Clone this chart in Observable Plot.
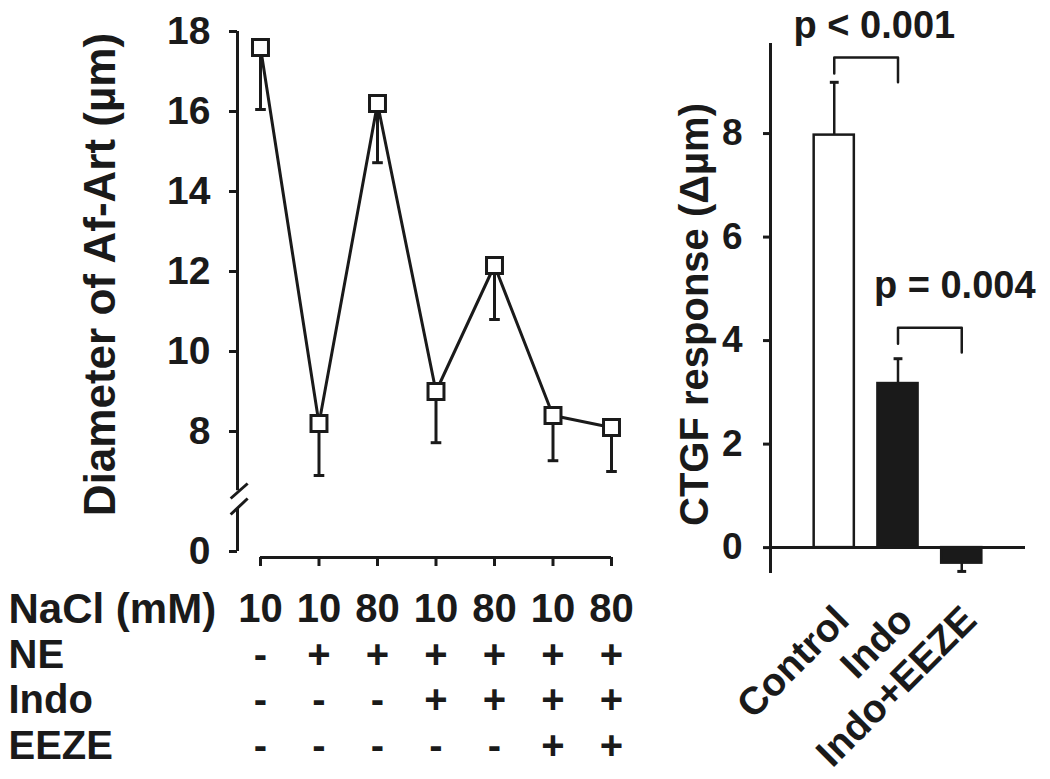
<!DOCTYPE html>
<html>
<head>
<meta charset="utf-8">
<script src="https://cdn.jsdelivr.net/npm/d3@7"></script>
<script src="https://cdn.jsdelivr.net/npm/@observablehq/plot@0.6"></script>
<style>
  html, body { margin: 0; padding: 0; background: #ffffff; }
  #wrap { position: relative; width: 1050px; height: 779px; overflow: hidden; background: #ffffff; }
  #left { position: absolute; left: 0; top: 0; }
  #right { position: absolute; left: 680px; top: 0; }
</style>
</head>
<body>
<div id="wrap"><div id="left"></div><div id="right"></div></div>
<script>
// ---------- Left panel data ----------
const conditions = [0, 1, 2, 3, 4, 5, 6];
const diameter = [17.6, 8.2, 16.2, 9.0, 12.15, 8.4, 8.1];
const diameterLow = [16.05, 6.9, 14.72, 7.72, 10.8, 7.27, 7.0];
const naclRow = ["10", "10", "80", "10", "80", "10", "80"];
const neRow = ["-", "+", "+", "+", "+", "+", "+"];
const indoRow = ["-", "-", "-", "+", "+", "+", "+"];
const eezeRow = ["-", "-", "-", "-", "-", "+", "+"];
const rowLabels = ["NaCl (mM)", "NE", "Indo", "EEZE"];
const leftTicks = [0, 8, 10, 12, 14, 16, 18];
const leftLabel = "Diameter of Af-Art (µm)";

// ---------- Right panel data ----------
const groups = ["Control", "Indo", "Indo+EEZE"];
const ctgf = [7.97, 3.17, -0.3];
const ctgfErr = [8.99, 3.65, -0.46];
const rightTicks = [0, 2, 4, 6, 8];
const rightLabel = "CTGF response (Δµm)";
const pLabels = ["p < 0.001", "p = 0.004"];
const pPos = [1.63, 2.89];
const pY = [10.09, 5.06];
// significance brackets: from group, to group, top, left end, right end
const bracketFrom = [1, 2];
const bracketTo = [2, 3];
const bracketTop = [9.47, 4.25];
const bracketLeftEnd = [9.16, 3.94];
const bracketRightEnd = [8.99, 3.77];

// ---------- shared styling ----------
const INK = "#1a1a1a";
const FONT = '"Liberation Sans", Arial, Helvetica, sans-serif';
const capSymbol = {
  draw(ctx, size) { const w = Math.sqrt(size) / 2; ctx.moveTo(-w, 0); ctx.lineTo(w, 0); }
};

// ---------- Left panel ----------
const pts = conditions.map((c, i) => ({c, v: diameter[i], lo: diameterLow[i]}));
const xMin = -0.393;
const rowMarks = [naclRow, neRow, indoRow, eezeRow].map((row, r) =>
  Plot.text(row, {x: (d, i) => conditions[i], text: d => d, frameAnchor: "bottom",
    lineAnchor: "middle", textAnchor: "middle",
    dy: 52 + 45.5 * r, fontSize: 40, fontWeight: "bold", fill: INK})
);
const rowLabelMarks = rowLabels.map((lab, r) =>
  Plot.text([lab], {text: d => d, frameAnchor: "bottom-left", textAnchor: "start", lineAnchor: "middle",
    dx: -229, dy: 52 + 45.5 * r, fontSize: r === 0 ? 42 : 40, fontWeight: "bold", fill: INK})
);

const left = Plot.plot({
  width: 680, height: 779,
  marginLeft: 237, marginRight: 69, marginTop: 31, marginBottom: 222,
  style: {fontFamily: FONT, background: "white", overflow: "visible", color: INK},
  x: {type: "linear", domain: [xMin, 6]},
  y: {type: "linear", domain: [-1, 0, 6.3, 18], range: [557, 551, 499, 31]},
  marks: [
    // broken y-axis line
    Plot.ruleX([xMin], {y1: 6.52, y2: 18, stroke: INK, strokeWidth: 3}),
    Plot.ruleX([xMin], {y1: 0, y2: 5.2, stroke: INK, strokeWidth: 3}),
    Plot.link([{x1: -0.51, y1: 6.325, x2: -0.22, y2: 6.7}, {x1: -0.51, y1: 4.48, x2: -0.22, y2: 6.325}],
      {x1: "x1", y1: "y1", x2: "x2", y2: "y2", stroke: INK, strokeWidth: 3}),
    Plot.axisY({ticks: leftTicks, tickFormat: d => `${d}`, tickSize: 8, tickPadding: 19,
      fontSize: 39, fontWeight: "bold", fill: INK, stroke: INK, strokeWidth: 3, label: null}),
    // x axis line and ticks
    Plot.ruleY([-1], {x1: 0, x2: 6, stroke: INK, strokeWidth: 3}),
    Plot.axisX({ticks: conditions, tickFormat: () => "", tickSize: 9, stroke: INK, strokeWidth: 3, label: null}),
    // data
    Plot.line(pts, {x: "c", y: "v", stroke: INK, strokeWidth: 3}),
    Plot.ruleX(pts, {x: "c", y1: "v", y2: "lo", stroke: INK, strokeWidth: 3}),
    Plot.dot(pts, {x: "c", y: "lo", symbol: capSymbol, r: 6, stroke: INK, strokeWidth: 3}),
    Plot.dot(pts, {x: "c", y: "v", symbol: "square", r: 9, fill: "white", stroke: INK, strokeWidth: 3}),
    // axis label
    Plot.text([leftLabel], {text: d => d, frameAnchor: "left", textAnchor: "middle", lineAnchor: "middle",
      rotate: -90, dx: -137, dy: -20, fontSize: 44, fontWeight: "bold", fill: INK}),
    ...rowMarks,
    ...rowLabelMarks
  ]
});
document.getElementById("left").appendChild(left);

// ---------- Right panel ----------
const bars = groups.map((g, i) => ({g, pos: i + 1, v: ctgf[i], e: ctgfErr[i]}));
const bracketPts = [];
bracketFrom.forEach((f, k) => {
  bracketPts.push({k, x: f, y: bracketLeftEnd[k]});
  bracketPts.push({k, x: f, y: bracketTop[k]});
  bracketPts.push({k, x: bracketTo[k], y: bracketTop[k]});
  bracketPts.push({k, x: bracketTo[k], y: bracketRightEnd[k]});
});
const pData = pLabels.map((t, i) => ({t, x: pPos[i], y: pY[i]}));

const right = Plot.plot({
  width: 370, height: 779,
  marginLeft: 90, marginRight: 25, marginTop: 43, marginBottom: 206,
  style: {fontFamily: FONT, background: "white", overflow: "visible", color: INK},
  x: {type: "linear", domain: [0, 4], axis: null},
  y: {type: "linear", domain: [-0.5, 9.74]},
  marks: [
    Plot.ruleX([0], {stroke: INK, strokeWidth: 3}),
    Plot.axisY({ticks: rightTicks, tickFormat: d => `${d}`, tickSize: 7, tickPadding: 21,
      fontSize: 37, fontWeight: "bold", fill: INK, stroke: INK, strokeWidth: 3, label: null}),
    Plot.ruleX(bars, {x: "pos", y1: "v", y2: "e", stroke: INK, strokeWidth: 2.5}),
    Plot.dot(bars, {x: "pos", y: "e", symbol: capSymbol, r: 5, stroke: INK, strokeWidth: 3}),
    Plot.rectY(bars, {x1: d => d.pos - 0.315, x2: d => d.pos + 0.315, y1: 0, y2: "v",
      fill: d => d.g === "Control" ? "white" : INK, stroke: INK, strokeWidth: 2.5}),
    Plot.ruleY([0], {stroke: INK, strokeWidth: 3}),
    Plot.line(bracketPts, {x: "x", y: "y", z: "k", stroke: INK, strokeWidth: 2.5}),
    Plot.text(pData, {x: "x", y: "y", text: "t", lineAnchor: "middle", fontSize: 38, fontWeight: "bold", fill: INK}),
    Plot.text(bars, {x: "pos", text: "g", frameAnchor: "bottom", rotate: -45, textAnchor: "end", lineAnchor: "middle",
      dx: 8, dy: 40, fontSize: 39, fontWeight: "bold", fill: INK}),
    Plot.text([rightLabel], {text: d => d, frameAnchor: "left", textAnchor: "middle", lineAnchor: "middle",
      rotate: -90, dx: -75, dy: 6, fontSize: 40, fontWeight: "bold", fill: INK})
  ]
});
document.getElementById("right").appendChild(right);
</script>
</body>
</html>
